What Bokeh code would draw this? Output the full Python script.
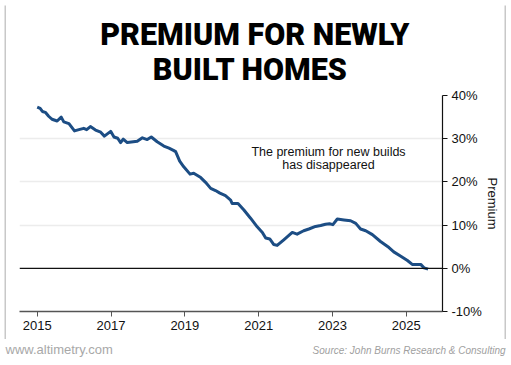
from bokeh.plotting import figure
from bokeh.layouts import column, row
from bokeh.models import FixedTicker, Span, Label, Range1d, Spacer
from bokeh.core.properties import value
from bokeh.embed import file_html
from bokeh.resources import INLINE

# ---- data (decimal year, premium %) ----
years = [2015.00, 2015.08, 2015.14, 2015.22, 2015.31, 2015.40, 2015.54, 2015.65, 2015.72, 2015.86,
         2016.01, 2016.13, 2016.26, 2016.34, 2016.44, 2016.58, 2016.72, 2016.82, 2016.99,
         2017.08, 2017.18, 2017.26, 2017.33, 2017.44, 2017.71, 2017.85, 2017.98,
         2018.09, 2018.25, 2018.43, 2018.57, 2018.69, 2018.75, 2018.86, 2018.97,
         2019.14, 2019.24, 2019.43, 2019.56, 2019.70, 2019.83, 2019.95,
         2020.10, 2020.24, 2020.28, 2020.44, 2020.60, 2020.78, 2020.96,
         2021.10, 2021.19, 2021.30, 2021.41, 2021.50, 2021.68, 2021.91,
         2022.04, 2022.22, 2022.36, 2022.54, 2022.68, 2022.81, 2022.92,
         2023.01, 2023.13, 2023.31, 2023.49, 2023.63, 2023.76, 2023.90,
         2024.08, 2024.30, 2024.53, 2024.66, 2024.85,
         2025.03, 2025.16, 2025.39, 2025.48, 2025.59]
premium = [37.3, 37.0, 36.3, 36.1, 35.2, 34.5, 34.1, 35.0, 33.9, 33.5,
           31.8, 32.1, 32.4, 32.1, 32.8, 32.0, 31.5, 30.6, 31.7,
           30.4, 30.1, 29.1, 29.9, 29.1, 29.4, 30.2, 29.8,
           30.4, 29.3, 28.3, 27.8, 27.3, 27.0, 24.8, 23.5,
           21.8, 22.0, 21.0, 19.9, 18.5, 18.0, 17.4,
           16.8, 15.8, 15.0, 15.0, 13.5, 11.6, 9.6,
           8.3, 7.0, 6.8, 5.5, 5.3, 6.6, 8.3,
           7.9, 8.7, 9.1, 9.7, 9.9, 10.2, 10.3,
           10.1, 11.4, 11.2, 11.0, 10.4, 9.1, 8.7,
           7.8, 6.2, 4.8, 3.8, 2.8,
           1.8, 0.9, 0.9, 0.1, -0.2]

x_ticks = [2015, 2017, 2019, 2021, 2023, 2025]
x_tick_labels = ["2015", "2017", "2019", "2021", "2023", "2025"]
y_ticks = [-10, 0, 10, 20, 30, 40]
y_tick_labels = ["-10%", "0%", "10%", "20%", "30%", "40%"]

title_lines = ["PREMIUM FOR NEWLY", "BUILT HOMES"]
note_lines = ["The premium for new builds", "has disappeared"]
site_text = "www.altimetry.com"
source_text = "Source: John Burns Research & Consulting"

# ---- layout (page pixel positions from the reference) ----
BOX_X, BOX_Y = 4, 3          # outer border position on the page
BORDER = 2
CX0, CY0 = BOX_X + BORDER, BOX_Y + BORDER   # content origin on the page
CW = 498                      # content width inside the border
HEAD_H = 82                   # header: page y 5..87
CHART_H = 252                 # chart: page y 87..339
FOOT_W, FOOT_H = 511, 24      # footer: page y 341..365
BORDER_COLOR = "#c8c8c8"
BASE_SHIFT = 0.43             # measured baseline offset, in em, of rendered text

FL, FR, FT, FB = 19, 442, 95, 311   # frame edges on the page
X0, X1 = 2014.52, 2025.98
Y0, Y1 = -10, 40


def px_x(px):
    return X0 + (px - FL) / (FR - FL) * (X1 - X0)


def px_y(py):
    return Y1 - (py - FT) / (FB - FT) * (Y1 - Y0)


def blank(w, h, color="white"):
    f = figure(width=w, height=h, output_backend="svg", toolbar_location=None, title=None,
               x_range=Range1d(0, w), y_range=Range1d(h, 0),
               x_axis_type=None, y_axis_type=None,
               min_border_left=0, min_border_right=0, min_border_top=0, min_border_bottom=0)
    f.grid.visible = False
    f.outline_line_color = None
    f.background_fill_color = color
    f.border_fill_color = color
    return f


# ---- header ----
TITLE_SIZE = 30.5
head = blank(CW, HEAD_H)
head.text(x=[101 - CX0, 163 - CX0],
          y=[46.7 - CY0 - BASE_SHIFT * TITLE_SIZE, 82 - CY0 - BASE_SHIFT * TITLE_SIZE],
          text=title_lines, text_align="left", text_baseline="alphabetic",
          text_font=value("Roboto Black"), text_font_size=f"{TITLE_SIZE}px",
          text_color="#000000")

# ---- chart ----
chart_top = CY0 + HEAD_H
p = figure(width=CW, height=CHART_H, output_backend="svg", toolbar_location=None, title=None,
           x_range=Range1d(X0, X1), y_range=Range1d(Y0, Y1),
           y_axis_location="right",
           min_border_left=FL - CX0, min_border_right=CW - (FR - CX0),
           min_border_top=FT - chart_top, min_border_bottom=chart_top + CHART_H - FB)
p.outline_line_color = None
p.background_fill_color = "white"
p.border_fill_color = "white"

p.xgrid.visible = False
p.ygrid.ticker = FixedTicker(ticks=[10, 20, 30, 40])
p.ygrid.grid_line_color = "#ececec"
p.ygrid.grid_line_width = 1.5

xa = p.xaxis[0]
xa.ticker = FixedTicker(ticks=x_ticks)
xa.major_label_overrides = dict(zip(x_ticks, x_tick_labels))
xa.axis_line_color = "#555555"
xa.axis_line_width = 1.5
xa.major_tick_line_color = "#555555"
xa.major_tick_in = 0
xa.major_tick_out = 5
xa.minor_tick_line_color = None
xa.major_label_text_font = "Liberation Sans"
xa.major_label_text_font_size = "13px"
xa.major_label_text_color = "#111111"
xa.major_label_standoff = 4

ya = p.yaxis[0]
ya.ticker = FixedTicker(ticks=y_ticks)
ya.major_label_overrides = dict(zip(y_ticks, y_tick_labels))
ya.axis_line_color = "#111111"
ya.axis_line_width = 1.2
ya.major_tick_line_color = "#111111"
ya.major_tick_in = 0
ya.major_tick_out = 5
ya.minor_tick_line_color = None
ya.major_label_text_font = "Liberation Sans"
ya.major_label_text_font_size = "13px"
ya.major_label_text_color = "#111111"
ya.major_label_standoff = 4
ya.axis_label = "Premium"
ya.axis_label_text_font = "Liberation Sans"
ya.axis_label_text_font_size = "13px"
ya.axis_label_text_font_style = "normal"
ya.axis_label_text_color = "#111111"
ya.axis_label_standoff = 0

p.add_layout(Span(location=0, dimension="width", line_color="#111111", line_width=1.2))

p.line(years, premium, line_color="#1c4d84", line_width=3, line_join="round")

NOTE_SIZE = 12.5
for i, t in enumerate(note_lines):
    p.add_layout(Label(x=px_x(328), y=px_y(156.7 + 13.5 * i - BASE_SHIFT * NOTE_SIZE), text=t,
                       text_align="center", text_baseline="alphabetic",
                       text_font="Liberation Sans", text_font_size=f"{NOTE_SIZE}px",
                       text_color="#111111"))

# ---- footer ----
foot = blank(FOOT_W, FOOT_H)
foot_top = BOX_Y + 2 * BORDER + HEAD_H + CHART_H
foot.text(x=[5], y=[354.5 - foot_top - BASE_SHIFT * 13], text=[site_text], text_align="left",
          text_baseline="alphabetic", text_font=value("Liberation Sans"),
          text_font_size="13px", text_color="#a8a8a8")
foot.text(x=[505], y=[354 - foot_top - BASE_SHIFT * 10], text=[source_text],
          text_align="right", text_baseline="alphabetic", text_font=value("Liberation Sans"),
          text_font_size="10px", text_font_style="italic", text_color="#a0a0a0")

# ---- border built from thin filled strips ----
inner_h = HEAD_H + CHART_H
boxed = column(
    blank(CW + 2 * BORDER, BORDER, BORDER_COLOR),
    row(blank(BORDER, inner_h, BORDER_COLOR), column(head, p, spacing=0),
        blank(BORDER, inner_h, BORDER_COLOR), spacing=0),
    blank(CW + 2 * BORDER, BORDER, BORDER_COLOR),
    spacing=0)

layout = column(Spacer(width=1, height=BOX_Y),
                row(Spacer(width=BOX_X, height=1), boxed, spacing=0),
                foot, spacing=0)

open("out.html", "w").write(file_html(layout, INLINE))
